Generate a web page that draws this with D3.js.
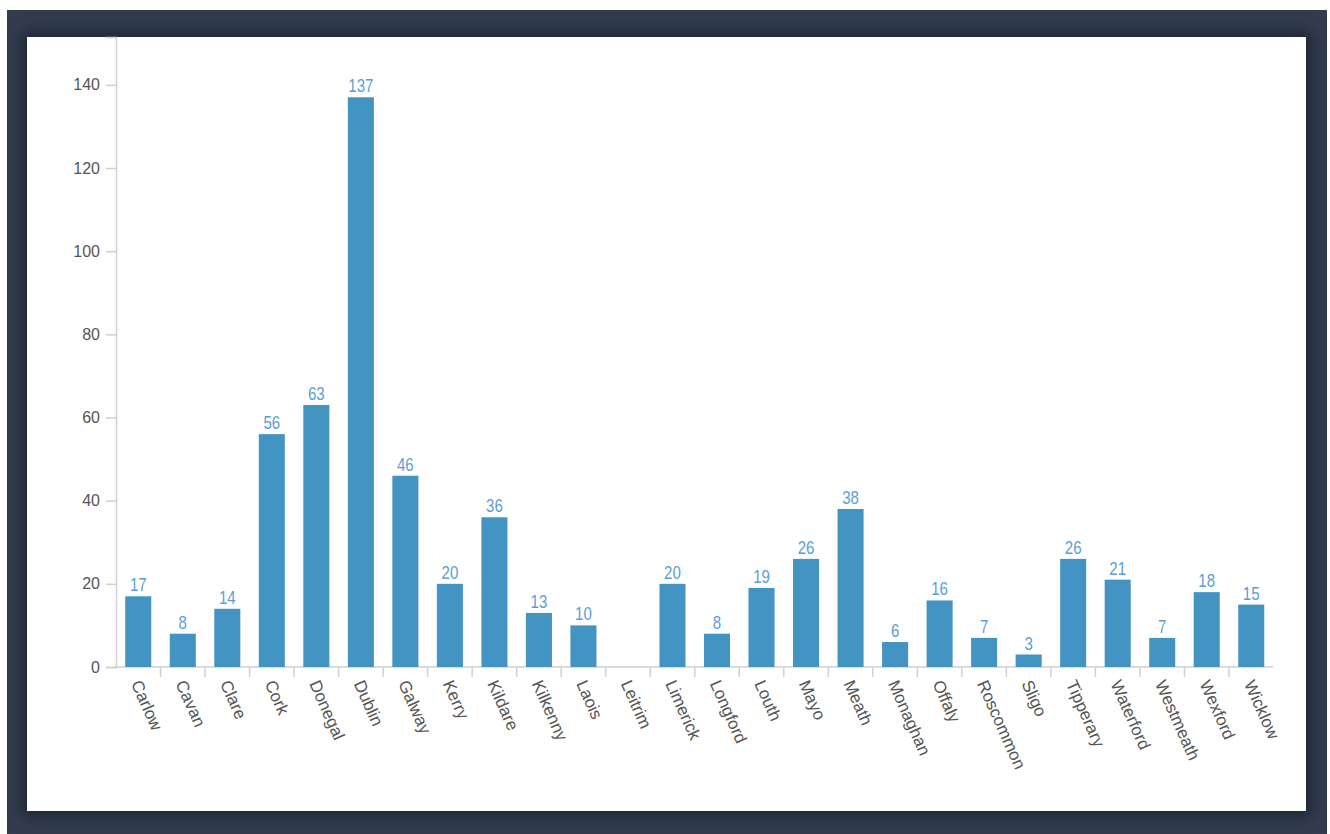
<!DOCTYPE html>
<html>
<head>
<meta charset="utf-8">
<script src="https://cdn.jsdelivr.net/npm/d3@7"></script>
<style>
  html, body { margin: 0; padding: 0; background: #ffffff; width: 1330px; height: 834px; overflow: hidden; }
  #frame { position: absolute; left: 7px; top: 10px; width: 1320px; height: 824px; background: #323c4e; }
  #panel { position: absolute; left: 27px; top: 37px; width: 1279px; height: 774px; background: #ffffff;
           box-shadow: 0 0 14px 4px rgba(10, 14, 20, 0.55); }
  svg { position: absolute; left: 0; top: 0; }
</style>
</head>
<body>
<div id="frame"></div>
<div id="panel"></div>
<svg id="chart" width="1330" height="834"></svg>
<script>
// Number of records per county
const counties = ["Carlow", "Cavan", "Clare", "Cork", "Donegal", "Dublin", "Galway", "Kerry", "Kildare",
  "Kilkenny", "Laois", "Leitrim", "Limerick", "Longford", "Louth", "Mayo", "Meath", "Monaghan", "Offaly",
  "Roscommon", "Sligo", "Tipperary", "Waterford", "Westmeath", "Wexford", "Wicklow"];
const counts = [17, 8, 14, 56, 63, 137, 46, 20, 36, 13, 10, 0, 20, 8, 19, 26, 38, 6, 16, 7, 3, 26, 21, 7, 18, 15];
const yTicks = [0, 20, 40, 60, 80, 100, 120, 140];

const data = counties.map((c, i) => ({ county: c, value: counts[i] }));

const plotLeft = 116, plotRight = 1273.5, plotTop = 37, plotBottom = 667;
const svg = d3.select("#chart");

const x = d3.scaleBand().domain(counties).range([plotLeft, plotRight]).paddingInner(0.415).paddingOuter(0.2075);
const y = d3.scaleLinear().domain([0, 151.5]).range([plotBottom, plotTop]);

const axisColor = "#d0d0d0";
const textColor = "#555555";
const font = '"Liberation Sans", Arial, sans-serif';

// y axis
const yAxis = svg.append("g").attr("transform", `translate(${plotLeft},0)`)
  .call(d3.axisLeft(y).tickValues(yTicks).tickSize(10).tickPadding(6));
yAxis.select(".domain").attr("stroke", axisColor).attr("stroke-width", 1.5);
yAxis.selectAll(".tick line").attr("stroke", axisColor).attr("stroke-width", 1.5);
yAxis.selectAll(".tick text").attr("fill", textColor).attr("font-size", 16).attr("font-family", font);

// x axis: tick marks sit on band boundaries, labels at band centers
const xAxis = svg.append("g").attr("transform", `translate(0,${plotBottom})`);
xAxis.append("line").attr("x1", plotLeft).attr("x2", plotRight).attr("y1", 0).attr("y2", 0)
  .attr("stroke", axisColor).attr("stroke-width", 1.5);
xAxis.selectAll("line.sep").data(counties.slice(1)).enter().append("line").attr("class", "sep")
  .attr("x1", d => x(d) - x.step() * x.paddingInner() / 2)
  .attr("x2", d => x(d) - x.step() * x.paddingInner() / 2)
  .attr("y1", 0).attr("y2", 10)
  .attr("stroke", axisColor).attr("stroke-width", 1.5);
xAxis.selectAll("text.lbl").data(counties).enter().append("text").attr("class", "lbl")
  .attr("transform", d => `translate(${x(d) + x.bandwidth() / 2 - 2},14) rotate(66)`)
  .attr("font-family", font).attr("font-size", 17).attr("fill", textColor)
  .attr("text-anchor", "start").attr("dy", "0.35em")
  .text(d => d);

// bars
svg.append("g").selectAll("rect").data(data).enter().append("rect")
  .attr("x", d => x(d.county)).attr("width", x.bandwidth())
  .attr("y", d => y(d.value)).attr("height", d => y(0) - y(d.value))
  .attr("fill", "#4393c3");

// value labels, slightly condensed
svg.append("g").selectAll("text").data(data.filter(d => d.value > 0)).enter().append("text")
  .attr("transform", d => `translate(${x(d.county) + x.bandwidth() / 2},${y(d.value) - 5}) scale(0.86,1)`)
  .attr("text-anchor", "middle").attr("font-family", font).attr("font-size", 17.5)
  .attr("fill", "#5b9ed6").text(d => d.value);
</script>
</body>
</html>
